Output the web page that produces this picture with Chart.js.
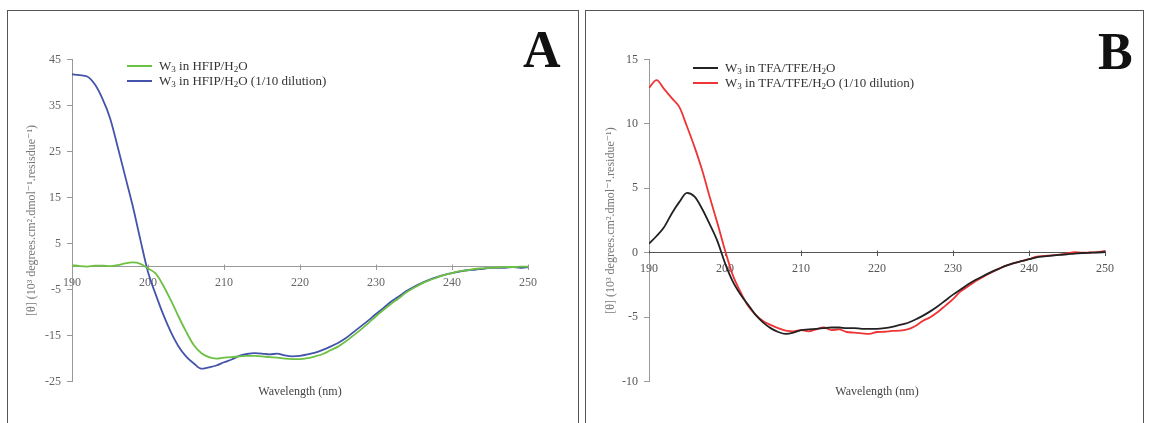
<!DOCTYPE html>
<html>
<head>
<meta charset="utf-8">
<script src="https://cdn.jsdelivr.net/npm/chart.js@4.4.0/dist/chart.umd.min.js"></script>
<style>
  html, body { margin:0; padding:0; background:#fff; }
  body { width:1149px; height:423px; overflow:hidden; position:relative; font-family:"Liberation Serif", "DejaVu Serif", serif; }
  .panel { position:absolute; top:10px; height:440px; border:1px solid #555; box-sizing:border-box; }
  #pA { left:7px; width:572px; }
  #pB { left:585px; width:559px; }
  canvas { position:absolute; top:0; }
  #cA { left:0; }
  #cB { left:580px; }
  .letter { position:absolute; font:bold 52px "Liberation Serif", serif; line-height:1; color:#111; }
  .legend { position:absolute; font:13px "Liberation Serif", serif; color:#333; }
  .legend .row { height:14.5px; line-height:14.5px; white-space:nowrap; display:flex; align-items:center; }
  .legend .sw { display:inline-block; width:25px; height:2px; margin-right:7px; }
  .legend sub { font-size:70%; vertical-align:-2px; line-height:0; }
</style>
</head>
<body>
<div class="panel" id="pA"></div>
<div class="panel" id="pB"></div>
<canvas id="cA" width="580" height="423"></canvas>
<canvas id="cB" width="569" height="423"></canvas>
<div class="letter" style="left:523px; top:24px;">A</div>
<div class="letter" style="left:1098px; top:26px;">B</div>
<div class="legend" id="legA" style="left:127px; top:59px;"></div>
<div class="legend" id="legB" style="left:693px; top:61px;"></div>
<script>
// ---------- data ----------
const wavelengths = [190,191,192,193,194,195,196,197,198,199,
  200,201,202,203,204,205,206,207,208,209,
  210,211,212,213,214,215,216,217,218,219,
  220,221,222,223,224,225,226,227,228,229,
  230,231,232,233,234,235,236,237,238,239,
  240,241,242,243,244,245,246,247,248,249,250];

// Panel A: W3 in HFIP/H2O
const hfip = [0.3,0.1,0.0,0.2,0.2,0.1,0.3,0.7,0.9,0.6,
  -0.4,-1.5,-4.1,-7.3,-10.8,-14.1,-17.0,-18.8,-19.7,-20.0,
  -19.8,-19.7,-19.5,-19.4,-19.4,-19.5,-19.7,-19.8,-20.0,-20.1,
  -20.1,-19.9,-19.5,-19.0,-18.2,-17.4,-16.3,-15.0,-13.7,-12.3,
  -10.8,-9.4,-8.1,-6.9,-5.6,-4.6,-3.7,-3.0,-2.4,-1.8,
  -1.4,-1.0,-0.8,-0.5,-0.4,-0.3,-0.2,-0.1,-0.1,0.0,0.0];
// Panel A: W3 in HFIP/H2O (1/10 dilution)
const hfipDil = [41.8,41.6,41.3,39.6,36.5,32.3,26.1,19.6,13.1,5.8,
  -1.2,-6.0,-10.4,-14.2,-17.3,-19.5,-21.0,-22.2,-21.9,-21.5,
  -20.8,-20.2,-19.4,-19.0,-18.8,-18.9,-19.1,-18.9,-19.3,-19.5,
  -19.4,-19.1,-18.7,-18.1,-17.4,-16.6,-15.6,-14.3,-13.0,-11.7,
  -10.3,-9.0,-7.6,-6.5,-5.3,-4.4,-3.6,-2.9,-2.3,-1.8,
  -1.4,-1.1,-0.8,-0.7,-0.5,-0.3,-0.3,-0.3,-0.1,-0.3,-0.1];
// Panel B: W3 in TFA/TFE/H2O
const tfa = [0.7,1.3,2.0,3.05,3.95,4.65,4.35,3.4,2.2,0.9,
  -0.8,-2.2,-3.2,-4.0,-4.8,-5.4,-5.85,-6.15,-6.3,-6.2,
  -6.0,-5.95,-5.9,-5.85,-5.8,-5.8,-5.85,-5.85,-5.9,-5.9,
  -5.9,-5.85,-5.75,-5.6,-5.45,-5.2,-4.9,-4.55,-4.15,-3.7,
  -3.25,-2.85,-2.45,-2.1,-1.8,-1.5,-1.25,-1.0,-0.8,-0.65,
  -0.5,-0.35,-0.28,-0.22,-0.17,-0.12,-0.06,-0.02,0.0,0.02,0.05];
// Panel B: W3 in TFA/TFE/H2O (1/10 dilution)
const tfaDil = [12.8,13.4,12.7,12.0,11.3,9.8,8.2,6.4,4.3,2.3,
  0.2,-1.7,-3.0,-4.1,-4.8,-5.3,-5.6,-5.85,-6.05,-6.1,
  -6.0,-6.1,-5.95,-5.8,-6.0,-5.95,-6.15,-6.2,-6.25,-6.3,
  -6.15,-6.13,-6.07,-6.05,-5.95,-5.7,-5.3,-5.0,-4.6,-4.1,
  -3.6,-3.0,-2.6,-2.2,-1.85,-1.55,-1.25,-1.0,-0.8,-0.65,
  -0.5,-0.3,-0.25,-0.2,-0.15,-0.05,0.05,0.0,0.02,0.05,0.15];

const xTicksMin = 190, xTicksMax = 250, xStep = 10;
const yA = { min:-25, max:45, step:10 };
const yB = { min:-10, max:15, step:5 };

const labelsA = ['W₃ in HFIP/H₂O', 'W₃ in HFIP/H₂O (1/10 dilution)'];
const labelsB = ['W₃ in TFA/TFE/H₂O', 'W₃ in TFA/TFE/H₂O (1/10 dilution)'];
const legendHtmlA = ['W<sub>3</sub> in HFIP/H<sub>2</sub>O', 'W<sub>3</sub> in HFIP/H<sub>2</sub>O (1/10 dilution)'];
const legendHtmlB = ['W<sub>3</sub> in TFA/TFE/H<sub>2</sub>O', 'W<sub>3</sub> in TFA/TFE/H<sub>2</sub>O (1/10 dilution)'];
const colorsA = ['#6cc043', '#4454aa'];
const colorsB = ['#222222', '#ee3434'];
const yTitleA = '[θ] (10³ degrees.cm².dmol⁻¹.resisdue⁻¹)';
const yTitleB = '[θ] (10³ degrees.cm².dmol⁻¹.residue⁻¹)';
const xTitle = 'Wavelength (nm)';

// ---------- rendering ----------
const FONT = '"Liberation Serif", "DejaVu Serif", serif';

const crossTicks = {
  id: 'crossTicks',
  beforeDatasetsDraw(chart, args, opts) {
    const xs = chart.scales.x, ys = chart.scales.y, ctx = chart.ctx;
    const y0 = Math.round(ys.getPixelForValue(0)) + 0.5;
    ctx.save();
    ctx.strokeStyle = opts.color; ctx.lineWidth = 1;
    ctx.beginPath();
    xs.ticks.forEach(t => {
      const px = Math.round(xs.getPixelForValue(t.value)) + 0.5;
      ctx.moveTo(px, y0 - opts.len); ctx.lineTo(px, y0);
    });
    ctx.stroke();
    ctx.restore();
  }
};

function pts(arr) { return wavelengths.map((w, i) => ({ x: w, y: arr[i] })); }

function makeChart(id, series, labels, colors, yr, yTitle, L) {
  new Chart(document.getElementById(id), {
    type: 'line',
    data: {
      datasets: series.map((s, i) => ({
        label: labels[i], data: pts(s), borderColor: colors[i], backgroundColor: colors[i],
        borderWidth: 1.8, pointRadius: 0, fill: false, cubicInterpolationMode: 'monotone'
      }))
    },
    options: {
      responsive: false, animation: false, devicePixelRatio: 1,
      layout: { padding: { left: L.padL, right: L.padR, top: L.padT, bottom: L.padB } },
      plugins: { legend: { display: false }, tooltip: { enabled: false }, crossTicks: { color: L.xAxisColor, len: 3 } },
      scales: {
        x: {
          type: 'linear', min: xTicksMin, max: xTicksMax, position: { y: 0 },
          ticks: { stepSize: xStep, color: L.tickColor, font: { family: FONT, size: 12 }, padding: 6, maxRotation: 0 },
          grid: { drawOnChartArea: false, drawTicks: true, tickLength: 3, color: L.xAxisColor },
          border: { color: L.xAxisColor, width: 1 }
        },
        x2: {
          axis: 'x', type: 'linear', min: xTicksMin, max: xTicksMax, position: 'bottom',
          ticks: { display: false }, grid: { display: false, drawTicks: false, tickLength: 0 }, border: { display: false },
          title: { display: true, text: xTitle, color: '#444', font: { family: FONT, size: 12 }, padding: { top: 3, bottom: 4 } }
        },
        y: {
          min: yr.min, max: yr.max, position: 'left',
          ticks: { stepSize: yr.step, color: L.tickColor, font: { family: FONT, size: 12 }, padding: 6 },
          grid: { drawOnChartArea: false, drawTicks: true, tickLength: 5, color: L.yAxisColor },
          border: { color: L.yAxisColor, width: 1 },
          title: { display: true, text: yTitle, color: '#777', font: { family: FONT, size: 12 }, padding: { top: 4, bottom: 4 } },
          afterFit(scale) { scale.width = L.yW; }
        }
      }
    },
    plugins: [crossTicks]
  });
}

function makeLegend(id, html, colors) {
  const el = document.getElementById(id);
  html.forEach((h, i) => {
    const row = document.createElement('div');
    row.className = 'row';
    row.innerHTML = '<span class="sw" style="background:' + colors[i] + '"></span><span>' + h + '</span>';
    el.appendChild(row);
  });
}

makeChart('cA', [hfip, hfipDil], labelsA, colorsA, yA, yTitleA,
  { padL: 21, yW: 51, padR: 52, padT: 59.5, padB: 20, tickColor: '#666', xAxisColor: '#999', yAxisColor: '#999' });
makeChart('cB', [tfa, tfaDil], labelsB, colorsB, yB, yTitleB,
  { padL: 20, yW: 49, padR: 44, padT: 59.5, padB: 20, tickColor: '#555', xAxisColor: '#555', yAxisColor: '#999' });
makeLegend('legA', legendHtmlA, colorsA);
makeLegend('legB', legendHtmlB, colorsB);
</script>
</body>
</html>
